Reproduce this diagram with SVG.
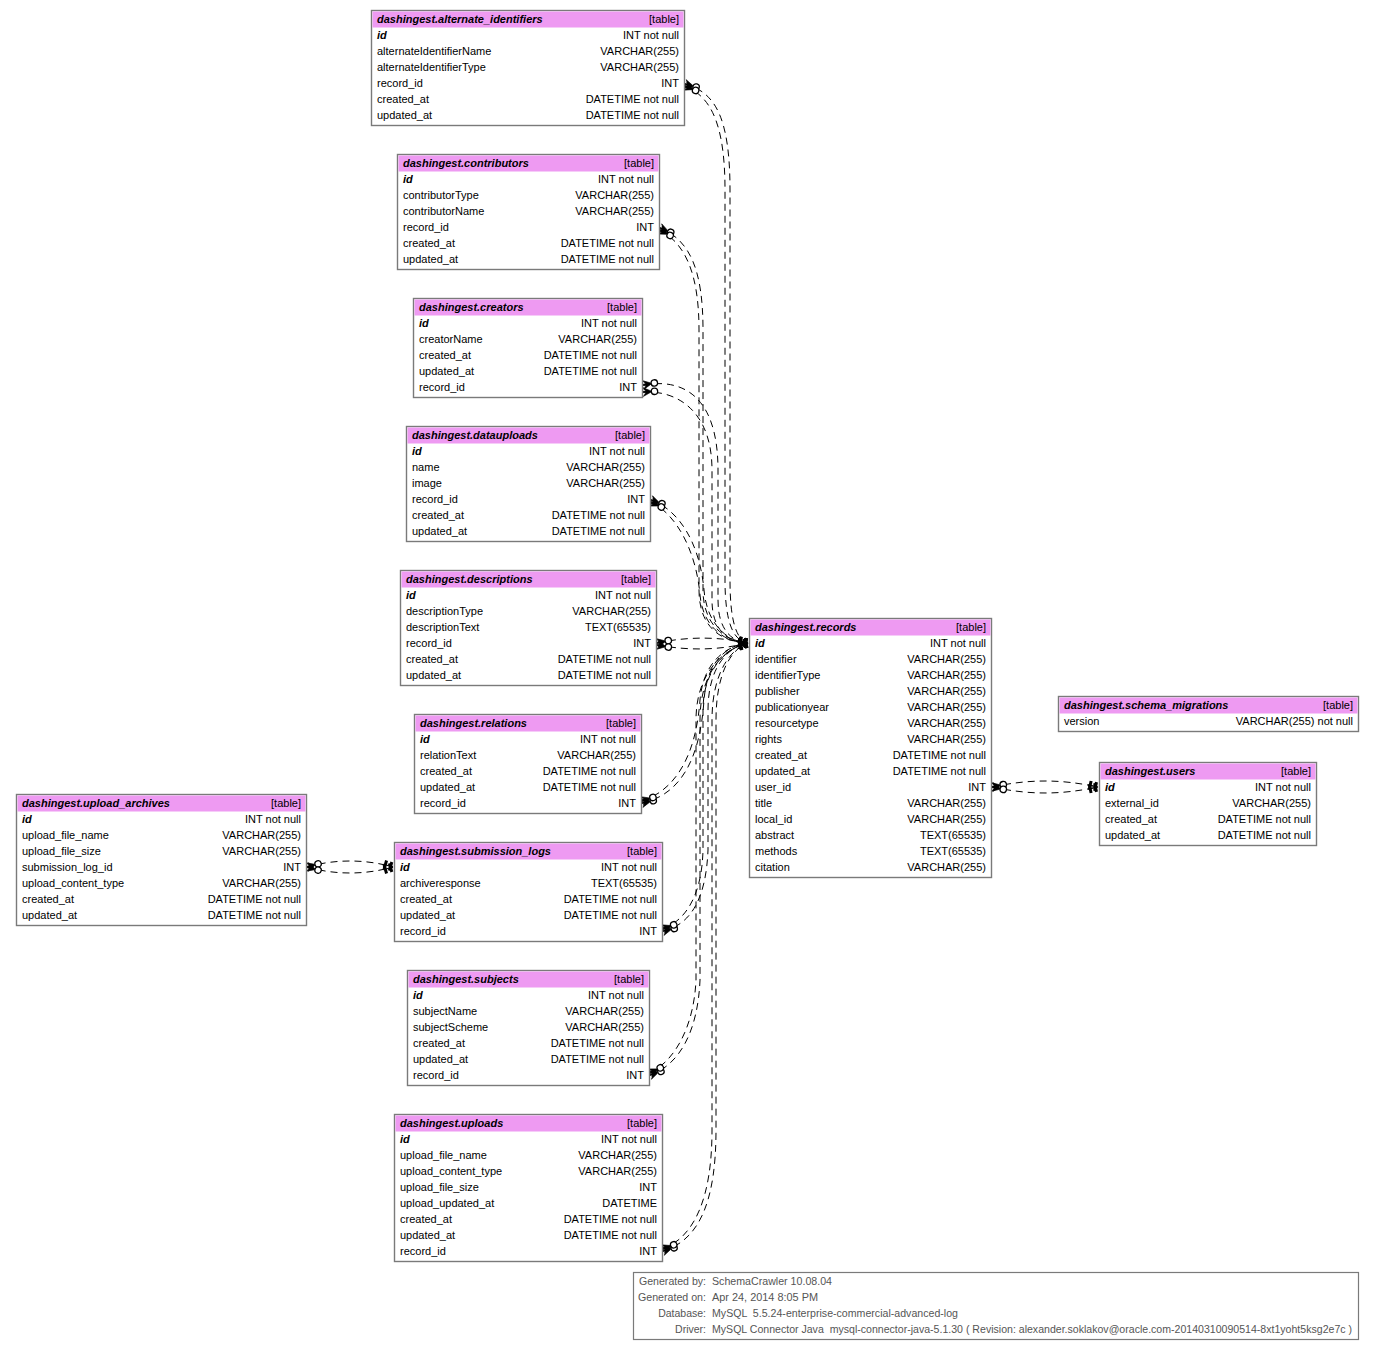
<svg xmlns="http://www.w3.org/2000/svg" width="1375" height="1351" viewBox="0 0 1375 1351">
  <style>
    .box { fill: #ffffff; stroke: #7a7a7a; stroke-width: 1.4; }
    .hdr { fill: #ee9af2; }
    text { font-family: "Liberation Sans", Arial, sans-serif; font-size: 11px; fill: #000; }
    .bi { font-weight: bold; font-style: italic; }
    .r { text-anchor: end; }
    .fk { fill: none; stroke: #000; stroke-width: 1; stroke-dasharray: 7 5; marker-start: url(#crowodot); marker-end: url(#teetee); }
    .foot { fill: #555; white-space: pre; font-size: 10.5px; }
    .fbox { fill: #fff; stroke: #7a7a7a; stroke-width: 1.2; }
  </style>
  <defs>
    <!-- many side: crow's foot touching the table, then an open dot -->
    <marker id="crowodot" markerUnits="userSpaceOnUse" orient="auto" refX="0" refY="0" markerWidth="20" markerHeight="12" overflow="visible">
      <path d="M0,-4.5 L8,-0.6 L8,0.6 L0,4.5 L2.8,0.9 L0,0.5 L0,-0.5 L2.8,-0.9 Z" fill="#000" stroke="#000" stroke-width="0.6"/>
      <circle cx="11.5" cy="0" r="3.2" fill="#fff" stroke="#000" stroke-width="1.3"/>
    </marker>
    <!-- one side: two bars against the referenced key -->
    <marker id="teetee" markerUnits="userSpaceOnUse" orient="auto" refX="0" refY="0" markerWidth="12" markerHeight="12" overflow="visible">
      <rect x="-9.5" y="-4.5" width="3" height="9" fill="#000"/>
      <rect x="-4" y="-4.5" width="3" height="9" fill="#000"/>
      <line x1="-10" y1="0" x2="0" y2="0" stroke="#000" stroke-width="1"/>
    </marker>
  </defs>

  <rect width="1375" height="1351" fill="#fff"/>

  <!-- foreign key connectors -->
  <g id="connectors">
    <path class="fk" d="M685,84 C714,92 730,115 730,190 L730,580 C730,620 736,640 748,643"/>
    <path class="fk" d="M685,86 C709,96 725,120 725,190 L725,580 C725,622 733,641 748,643"/>

    <path class="fk" d="M660,228 C690,240 703,270 703,330 L703,590 C703,625 725,641 748,643"/>
    <path class="fk" d="M660,230 C686,244 699,275 699,330 L699,590 C699,628 722,642 748,643"/>

    <path class="fk" d="M643,385 C682,378 718,395 718,470 L718,600 C718,630 732,642 748,643"/>
    <path class="fk" d="M643,392 C676,390 712,410 712,470 L712,600 C712,632 730,643 748,643"/>

    <path class="fk" d="M651,500 C680,510 700,545 704,590 C707,625 728,642 748,643"/>
    <path class="fk" d="M651,502 C676,514 696,550 700,595 C703,628 726,643 748,643"/>

    <path class="fk" d="M657,643 C690,636 720,637 748,643"/>
    <path class="fk" d="M657,645 C690,651 720,650 748,643"/>

    <path class="fk" d="M642,803 C680,795 700,760 704,700 C707,660 728,645 748,643"/>
    <path class="fk" d="M642,801 C676,790 696,755 700,700 C703,662 726,646 748,643"/>

    <path class="fk" d="M663,931 C690,925 706,900 708,850 L708,710 C708,665 730,646 748,643"/>
    <path class="fk" d="M663,929 C686,920 702,895 703,850 L703,710 C703,668 728,647 748,643"/>

    <path class="fk" d="M650,1075 C680,1065 698,1030 700,980 L700,720 C700,670 726,648 748,643"/>
    <path class="fk" d="M650,1073 C676,1060 694,1025 696,980 L696,720 C696,672 724,649 748,643"/>

    <path class="fk" d="M663,1251 C700,1240 716,1200 716,1130 L716,720 C716,670 733,648 748,643"/>
    <path class="fk" d="M663,1249 C696,1236 712,1195 712,1130 L712,720 C712,672 731,649 748,643"/>

    <path class="fk" d="M992,787 C1030,779 1060,779 1098,787"/>
    <path class="fk" d="M992,787 C1030,795 1060,795 1098,787"/>

    <path class="fk" d="M307,867 C335,859 365,859 393,867"/>
    <path class="fk" d="M307,867 C335,875 365,875 393,867"/>
  </g>

  <!-- dashingest.alternate_identifiers -->
  <g id="alternate_identifiers" transform="translate(371,10)">
    <rect class="box" x="0.5" y="0.5" width="313" height="115"/>
    <rect class="hdr" x="1.5" y="1.5" width="311" height="16"/>
    <text class="bi" x="6" y="13">dashingest.alternate_identifiers</text><text class="r" x="308" y="13">[table]</text>
    <text class="bi" x="6" y="29">id</text><text class="r" x="308" y="29">INT not null</text>
    <text x="6" y="45">alternateIdentifierName</text><text class="r" x="308" y="45">VARCHAR(255)</text>
    <text x="6" y="61">alternateIdentifierType</text><text class="r" x="308" y="61">VARCHAR(255)</text>
    <text x="6" y="77">record_id</text><text class="r" x="308" y="77">INT</text>
    <text x="6" y="93">created_at</text><text class="r" x="308" y="93">DATETIME not null</text>
    <text x="6" y="109">updated_at</text><text class="r" x="308" y="109">DATETIME not null</text>
  </g>

  <!-- dashingest.contributors -->
  <g id="contributors" transform="translate(397,154)">
    <rect class="box" x="0.5" y="0.5" width="262" height="115"/>
    <rect class="hdr" x="1.5" y="1.5" width="260" height="16"/>
    <text class="bi" x="6" y="13">dashingest.contributors</text><text class="r" x="257" y="13">[table]</text>
    <text class="bi" x="6" y="29">id</text><text class="r" x="257" y="29">INT not null</text>
    <text x="6" y="45">contributorType</text><text class="r" x="257" y="45">VARCHAR(255)</text>
    <text x="6" y="61">contributorName</text><text class="r" x="257" y="61">VARCHAR(255)</text>
    <text x="6" y="77">record_id</text><text class="r" x="257" y="77">INT</text>
    <text x="6" y="93">created_at</text><text class="r" x="257" y="93">DATETIME not null</text>
    <text x="6" y="109">updated_at</text><text class="r" x="257" y="109">DATETIME not null</text>
  </g>

  <!-- dashingest.creators -->
  <g id="creators" transform="translate(413,298)">
    <rect class="box" x="0.5" y="0.5" width="229" height="99"/>
    <rect class="hdr" x="1.5" y="1.5" width="227" height="16"/>
    <text class="bi" x="6" y="13">dashingest.creators</text><text class="r" x="224" y="13">[table]</text>
    <text class="bi" x="6" y="29">id</text><text class="r" x="224" y="29">INT not null</text>
    <text x="6" y="45">creatorName</text><text class="r" x="224" y="45">VARCHAR(255)</text>
    <text x="6" y="61">created_at</text><text class="r" x="224" y="61">DATETIME not null</text>
    <text x="6" y="77">updated_at</text><text class="r" x="224" y="77">DATETIME not null</text>
    <text x="6" y="93">record_id</text><text class="r" x="224" y="93">INT</text>
  </g>

  <!-- dashingest.datauploads -->
  <g id="datauploads" transform="translate(406,426)">
    <rect class="box" x="0.5" y="0.5" width="244" height="115"/>
    <rect class="hdr" x="1.5" y="1.5" width="242" height="16"/>
    <text class="bi" x="6" y="13">dashingest.datauploads</text><text class="r" x="239" y="13">[table]</text>
    <text class="bi" x="6" y="29">id</text><text class="r" x="239" y="29">INT not null</text>
    <text x="6" y="45">name</text><text class="r" x="239" y="45">VARCHAR(255)</text>
    <text x="6" y="61">image</text><text class="r" x="239" y="61">VARCHAR(255)</text>
    <text x="6" y="77">record_id</text><text class="r" x="239" y="77">INT</text>
    <text x="6" y="93">created_at</text><text class="r" x="239" y="93">DATETIME not null</text>
    <text x="6" y="109">updated_at</text><text class="r" x="239" y="109">DATETIME not null</text>
  </g>

  <!-- dashingest.descriptions -->
  <g id="descriptions" transform="translate(400,570)">
    <rect class="box" x="0.5" y="0.5" width="256" height="115"/>
    <rect class="hdr" x="1.5" y="1.5" width="254" height="16"/>
    <text class="bi" x="6" y="13">dashingest.descriptions</text><text class="r" x="251" y="13">[table]</text>
    <text class="bi" x="6" y="29">id</text><text class="r" x="251" y="29">INT not null</text>
    <text x="6" y="45">descriptionType</text><text class="r" x="251" y="45">VARCHAR(255)</text>
    <text x="6" y="61">descriptionText</text><text class="r" x="251" y="61">TEXT(65535)</text>
    <text x="6" y="77">record_id</text><text class="r" x="251" y="77">INT</text>
    <text x="6" y="93">created_at</text><text class="r" x="251" y="93">DATETIME not null</text>
    <text x="6" y="109">updated_at</text><text class="r" x="251" y="109">DATETIME not null</text>
  </g>

  <!-- dashingest.relations -->
  <g id="relations" transform="translate(414,714)">
    <rect class="box" x="0.5" y="0.5" width="227" height="99"/>
    <rect class="hdr" x="1.5" y="1.5" width="225" height="16"/>
    <text class="bi" x="6" y="13">dashingest.relations</text><text class="r" x="222" y="13">[table]</text>
    <text class="bi" x="6" y="29">id</text><text class="r" x="222" y="29">INT not null</text>
    <text x="6" y="45">relationText</text><text class="r" x="222" y="45">VARCHAR(255)</text>
    <text x="6" y="61">created_at</text><text class="r" x="222" y="61">DATETIME not null</text>
    <text x="6" y="77">updated_at</text><text class="r" x="222" y="77">DATETIME not null</text>
    <text x="6" y="93">record_id</text><text class="r" x="222" y="93">INT</text>
  </g>

  <!-- dashingest.upload_archives -->
  <g id="upload_archives" transform="translate(16,794)">
    <rect class="box" x="0.5" y="0.5" width="290" height="131"/>
    <rect class="hdr" x="1.5" y="1.5" width="288" height="16"/>
    <text class="bi" x="6" y="13">dashingest.upload_archives</text><text class="r" x="285" y="13">[table]</text>
    <text class="bi" x="6" y="29">id</text><text class="r" x="285" y="29">INT not null</text>
    <text x="6" y="45">upload_file_name</text><text class="r" x="285" y="45">VARCHAR(255)</text>
    <text x="6" y="61">upload_file_size</text><text class="r" x="285" y="61">VARCHAR(255)</text>
    <text x="6" y="77">submission_log_id</text><text class="r" x="285" y="77">INT</text>
    <text x="6" y="93">upload_content_type</text><text class="r" x="285" y="93">VARCHAR(255)</text>
    <text x="6" y="109">created_at</text><text class="r" x="285" y="109">DATETIME not null</text>
    <text x="6" y="125">updated_at</text><text class="r" x="285" y="125">DATETIME not null</text>
  </g>

  <!-- dashingest.submission_logs -->
  <g id="submission_logs" transform="translate(394,842)">
    <rect class="box" x="0.5" y="0.5" width="268" height="99"/>
    <rect class="hdr" x="1.5" y="1.5" width="266" height="16"/>
    <text class="bi" x="6" y="13">dashingest.submission_logs</text><text class="r" x="263" y="13">[table]</text>
    <text class="bi" x="6" y="29">id</text><text class="r" x="263" y="29">INT not null</text>
    <text x="6" y="45">archiveresponse</text><text class="r" x="263" y="45">TEXT(65535)</text>
    <text x="6" y="61">created_at</text><text class="r" x="263" y="61">DATETIME not null</text>
    <text x="6" y="77">updated_at</text><text class="r" x="263" y="77">DATETIME not null</text>
    <text x="6" y="93">record_id</text><text class="r" x="263" y="93">INT</text>
  </g>

  <!-- dashingest.subjects -->
  <g id="subjects" transform="translate(407,970)">
    <rect class="box" x="0.5" y="0.5" width="242" height="115"/>
    <rect class="hdr" x="1.5" y="1.5" width="240" height="16"/>
    <text class="bi" x="6" y="13">dashingest.subjects</text><text class="r" x="237" y="13">[table]</text>
    <text class="bi" x="6" y="29">id</text><text class="r" x="237" y="29">INT not null</text>
    <text x="6" y="45">subjectName</text><text class="r" x="237" y="45">VARCHAR(255)</text>
    <text x="6" y="61">subjectScheme</text><text class="r" x="237" y="61">VARCHAR(255)</text>
    <text x="6" y="77">created_at</text><text class="r" x="237" y="77">DATETIME not null</text>
    <text x="6" y="93">updated_at</text><text class="r" x="237" y="93">DATETIME not null</text>
    <text x="6" y="109">record_id</text><text class="r" x="237" y="109">INT</text>
  </g>

  <!-- dashingest.uploads -->
  <g id="uploads" transform="translate(394,1114)">
    <rect class="box" x="0.5" y="0.5" width="268" height="147"/>
    <rect class="hdr" x="1.5" y="1.5" width="266" height="16"/>
    <text class="bi" x="6" y="13">dashingest.uploads</text><text class="r" x="263" y="13">[table]</text>
    <text class="bi" x="6" y="29">id</text><text class="r" x="263" y="29">INT not null</text>
    <text x="6" y="45">upload_file_name</text><text class="r" x="263" y="45">VARCHAR(255)</text>
    <text x="6" y="61">upload_content_type</text><text class="r" x="263" y="61">VARCHAR(255)</text>
    <text x="6" y="77">upload_file_size</text><text class="r" x="263" y="77">INT</text>
    <text x="6" y="93">upload_updated_at</text><text class="r" x="263" y="93">DATETIME</text>
    <text x="6" y="109">created_at</text><text class="r" x="263" y="109">DATETIME not null</text>
    <text x="6" y="125">updated_at</text><text class="r" x="263" y="125">DATETIME not null</text>
    <text x="6" y="141">record_id</text><text class="r" x="263" y="141">INT</text>
  </g>

  <!-- dashingest.records -->
  <g id="records" transform="translate(749,618)">
    <rect class="box" x="0.5" y="0.5" width="242" height="259"/>
    <rect class="hdr" x="1.5" y="1.5" width="240" height="16"/>
    <text class="bi" x="6" y="13">dashingest.records</text><text class="r" x="237" y="13">[table]</text>
    <text class="bi" x="6" y="29">id</text><text class="r" x="237" y="29">INT not null</text>
    <text x="6" y="45">identifier</text><text class="r" x="237" y="45">VARCHAR(255)</text>
    <text x="6" y="61">identifierType</text><text class="r" x="237" y="61">VARCHAR(255)</text>
    <text x="6" y="77">publisher</text><text class="r" x="237" y="77">VARCHAR(255)</text>
    <text x="6" y="93">publicationyear</text><text class="r" x="237" y="93">VARCHAR(255)</text>
    <text x="6" y="109">resourcetype</text><text class="r" x="237" y="109">VARCHAR(255)</text>
    <text x="6" y="125">rights</text><text class="r" x="237" y="125">VARCHAR(255)</text>
    <text x="6" y="141">created_at</text><text class="r" x="237" y="141">DATETIME not null</text>
    <text x="6" y="157">updated_at</text><text class="r" x="237" y="157">DATETIME not null</text>
    <text x="6" y="173">user_id</text><text class="r" x="237" y="173">INT</text>
    <text x="6" y="189">title</text><text class="r" x="237" y="189">VARCHAR(255)</text>
    <text x="6" y="205">local_id</text><text class="r" x="237" y="205">VARCHAR(255)</text>
    <text x="6" y="221">abstract</text><text class="r" x="237" y="221">TEXT(65535)</text>
    <text x="6" y="237">methods</text><text class="r" x="237" y="237">TEXT(65535)</text>
    <text x="6" y="253">citation</text><text class="r" x="237" y="253">VARCHAR(255)</text>
  </g>

  <!-- dashingest.schema_migrations -->
  <g id="schema_migrations" transform="translate(1058,696)">
    <rect class="box" x="0.5" y="0.5" width="300" height="35"/>
    <rect class="hdr" x="1.5" y="1.5" width="298" height="16"/>
    <text class="bi" x="6" y="13">dashingest.schema_migrations</text><text class="r" x="295" y="13">[table]</text>
    <text x="6" y="29">version</text><text class="r" x="295" y="29">VARCHAR(255) not null</text>
  </g>

  <!-- dashingest.users -->
  <g id="users" transform="translate(1099,762)">
    <rect class="box" x="0.5" y="0.5" width="217" height="83"/>
    <rect class="hdr" x="1.5" y="1.5" width="215" height="16"/>
    <text class="bi" x="6" y="13">dashingest.users</text><text class="r" x="212" y="13">[table]</text>
    <text class="bi" x="6" y="29">id</text><text class="r" x="212" y="29">INT not null</text>
    <text x="6" y="45">external_id</text><text class="r" x="212" y="45">VARCHAR(255)</text>
    <text x="6" y="61">created_at</text><text class="r" x="212" y="61">DATETIME not null</text>
    <text x="6" y="77">updated_at</text><text class="r" x="212" y="77">DATETIME not null</text>
  </g>

  <!-- generation details -->
  <g id="footer">
    <rect class="fbox" x="633.5" y="1272.5" width="725" height="67"/>
    <text class="foot r" x="706" y="1285" textLength="67" lengthAdjust="spacingAndGlyphs">Generated by:</text>
    <text class="foot" x="712" y="1285" textLength="120" lengthAdjust="spacingAndGlyphs">SchemaCrawler 10.08.04</text>
    <text class="foot r" x="706" y="1301" textLength="68" lengthAdjust="spacingAndGlyphs">Generated on:</text>
    <text class="foot" x="712" y="1301" textLength="106" lengthAdjust="spacingAndGlyphs">Apr 24, 2014 8:05 PM</text>
    <text class="foot r" x="706" y="1317">Database:</text>
    <text class="foot" x="712" y="1317" textLength="246" lengthAdjust="spacingAndGlyphs">MySQL  5.5.24-enterprise-commercial-advanced-log</text>
    <text class="foot r" x="706" y="1333">Driver:</text>
    <text class="foot" x="712" y="1333" textLength="640" lengthAdjust="spacingAndGlyphs">MySQL Connector Java  mysql-connector-java-5.1.30 ( Revision: alexander.soklakov@oracle.com-20140310090514-8xt1yoht5ksg2e7c )</text>
  </g>
</svg>
